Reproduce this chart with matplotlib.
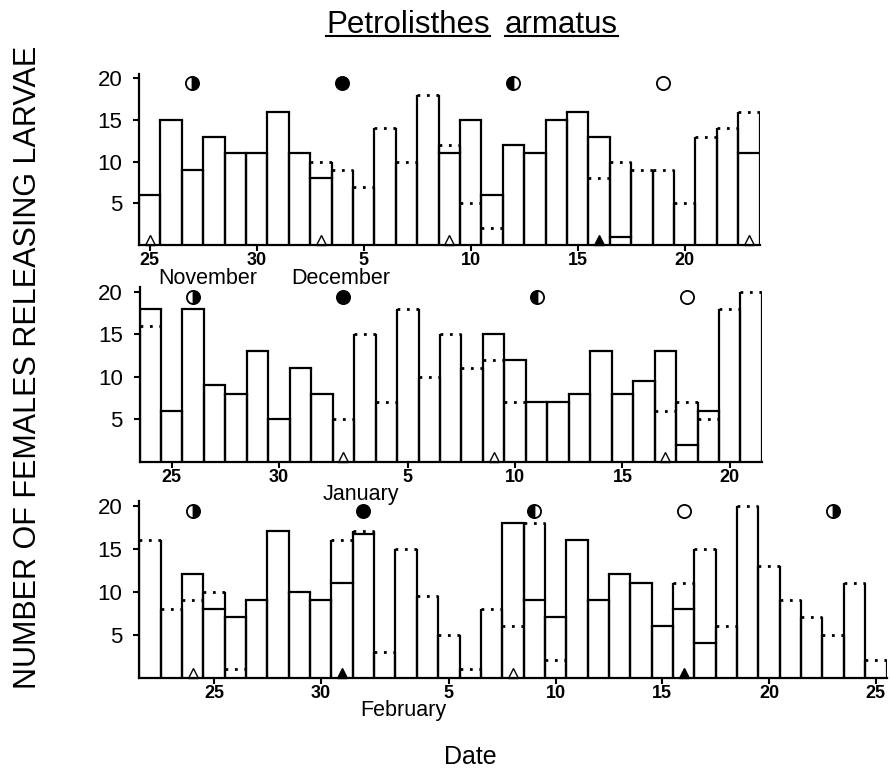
import matplotlib
matplotlib.use('Agg')
import matplotlib.pyplot as plt
import numpy as np
from matplotlib.lines import Line2D

plt.rcParams['font.family'] = ['Liberation Sans', 'DejaVu Sans']

nan = np.nan

# Panel 1: 25 Nov - 23 Dec
p1_solid = [6, 15, 9, 13, 11, 11, 16, 11, 8, nan, nan, nan, nan, nan, 11,
            15, 6, 12, 11, 15, 16, 13, 1, nan, nan, nan, nan, nan, 11]
p1_dotted = [nan, nan, nan, nan, nan, nan, nan, nan, 10, 9, 7, 14, 10, 18, 12,
             5, 2, nan, nan, nan, nan, 8, 10, 9, 9, 5, 13, 14, 16]
p1_ticks = [0, 5, 10, 15, 20, 25]
p1_ticklabels = ['25', '30', '5', '10', '15', '20']
p1_moons = [(2, 'last'), (9, 'new'), (17, 'first'), (24, 'full')]
p1_tri_open = [0, 8, 14, 28]
p1_tri_filled = [21]
p1_months = [(2.7, 'November'), (8.95, 'December')]

# Panel 2: 24 Dec - 21 Jan
p2_solid = [18, 6, 18, 9, 8, 13, 5, 11, 8, nan, nan, nan, nan, nan, nan,
            nan, 15, 12, 7, 7, 8, 13, 8, 9.5, 13, 2, 6, nan, nan]
p2_dotted = [16, nan, nan, nan, nan, nan, nan, nan, nan, 5, 15, 7, 18, 10, 15,
             11, 12, 7, nan, nan, nan, nan, nan, nan, 6, 7, 5, 18, 20]
p2_ticks = [1, 6, 12, 17, 22, 27]
p2_ticklabels = ['25', '30', '5', '10', '15', '20']
p2_moons = [(2, 'last'), (9, 'new'), (18, 'first'), (25, 'full')]
p2_tri_open = [9, 16, 24]
p2_tri_filled = []
p2_months = [(9.8, 'January')]

# Panel 3: 22 Jan - 25 Feb
p3_solid = [nan, nan, 12, 8, 7, 9, 17, 10, 9, 11, 16.7, nan, nan, nan, nan,
            nan, nan, 18, 9, 7, 16, 9, 12, 11, 6, 8, 4, nan, nan, nan, nan,
            nan, nan, nan, nan]
p3_dotted = [16, 8, 9, 10, 1, nan, nan, nan, nan, 16, 17, 3, 15, 9.5, 5,
             1, 8, 6, 18, 2, nan, nan, nan, nan, nan, 11, 15, 6, 20, 13, 9,
             7, 5, 11, 2]
p3_ticks = [3, 8, 14, 19, 24, 29, 34]
p3_ticklabels = ['25', '30', '5', '10', '15', '20', '25']
p3_moons = [(2, 'last'), (10, 'new'), (18, 'first'), (25, 'full'), (32, 'last')]
p3_tri_open = [2, 17]
p3_tri_filled = [9, 25]
p3_months = [(11.85, 'February')]

LW = 1.6
DOTS = (0, (1, 2.4))
MOON_Y = 19.4
W, H = 891, 784


def draw_panel(ax, solid, dotted, ticks, ticklabels, moons, tri_open,
               tri_filled, months):
    s = np.array(solid, dtype=float)
    d = np.array(dotted, dtype=float)
    x = np.arange(len(s))
    top = np.fmax(s, d)

    for xi, t in zip(x, top):
        ax.plot([xi - 0.5, xi - 0.5], [0, t], color='black', lw=LW,
                solid_capstyle='butt')
        ax.plot([xi + 0.5, xi + 0.5], [0, t], color='black', lw=LW,
                solid_capstyle='butt')
    for xi, v in zip(x, s):
        if not np.isnan(v):
            ax.plot([xi - 0.5, xi + 0.5], [v, v], color='black', lw=LW,
                    solid_capstyle='projecting')
    for xi, v in zip(x, d):
        if not np.isnan(v):
            ax.plot([xi - 0.5, xi + 0.5], [v, v], color='black', lw=2.0,
                    linestyle=DOTS)

    # moon phases
    for xi, phase in moons:
        kw = dict(marker='o', ms=9.5, mec='black', mew=1.3, ls='none',
                  clip_on=False)
        if phase == 'new':
            ax.plot(xi, MOON_Y, mfc='black', **kw)
        elif phase == 'full':
            ax.plot(xi, MOON_Y, mfc='white', **kw)
        elif phase == 'first':
            ax.plot(xi, MOON_Y, fillstyle='left', mfc='black',
                    markerfacecoloralt='white', **kw)
        else:
            ax.plot(xi, MOON_Y, fillstyle='right', mfc='black',
                    markerfacecoloralt='white', **kw)

    # triangles
    ax.plot(tri_open, [0.55] * len(tri_open), marker='^', ms=7, mfc='white',
            mec='black', mew=1.0, ls='none', clip_on=False)
    ax.plot(tri_filled, [0.55] * len(tri_filled), marker='^', ms=7,
            mfc='black', mec='black', ls='none', clip_on=False)

    ax.set_xlim(-0.5, len(s) - 0.5)
    ax.set_ylim(0, 20.5)
    for side in ['top', 'right']:
        ax.spines[side].set_visible(False)
    for side in ['left', 'bottom']:
        ax.spines[side].set_linewidth(1.6)
    ax.set_yticks([5, 10, 15, 20])
    ax.set_yticklabels(['5', '10', '15', '20'], fontsize=16)
    ax.set_xticks(ticks)
    ax.set_xticklabels(ticklabels, fontsize=13, fontweight='bold')
    ax.tick_params(axis='both', direction='out', length=4, width=1.5)
    ax.tick_params(axis='y', pad=8)
    ax.tick_params(axis='x', pad=1)

    for xm, name in months:
        ax.annotate(name, xy=(xm, 0), xycoords=('data', 'axes fraction'),
                    xytext=(0, -33), textcoords='offset pixels',
                    ha='center', va='center', fontsize=15.5)


fig = plt.figure(figsize=(W / 100, H / 100), dpi=100)
ax1 = fig.add_axes([0.1560, 0.6875, 0.6965, 0.2179])
ax2 = fig.add_axes([0.1566, 0.4111, 0.6985, 0.2222])
ax3 = fig.add_axes([0.1563, 0.1356, 0.8387, 0.2249])
for ax in (ax1, ax2, ax3):
    ax.patch.set_alpha(0)

draw_panel(ax1, p1_solid, p1_dotted, p1_ticks, p1_ticklabels, p1_moons,
           p1_tri_open, p1_tri_filled, p1_months)
draw_panel(ax2, p2_solid, p2_dotted, p2_ticks, p2_ticklabels, p2_moons,
           p2_tri_open, p2_tri_filled, p2_months)
draw_panel(ax3, p3_solid, p3_dotted, p3_ticks, p3_ticklabels, p3_moons,
           p3_tri_open, p3_tri_filled, p3_months)

# title, two words each underlined
t1 = fig.text(490 / W, 1 - 33 / H, 'Petrolisthes', ha='right',
              va='baseline', fontsize=22.5)
t2 = fig.text(505 / W, 1 - 33 / H, 'armatus', ha='left', va='baseline',
              fontsize=22.5)
fig.text(13 / W, 1 - 367 / H, 'NUMBER OF FEMALES RELEASING LARVAE',
         rotation=90, ha='left', va='center', fontsize=22)
fig.text(470 / W, 1 - 757 / H, 'Date', ha='center', va='center', fontsize=18)

fig.canvas.draw()
renderer = fig.canvas.get_renderer()
for t in (t1, t2):
    bb = t.get_window_extent(renderer)
    y = 1 - 36 / H
    fig.add_artist(Line2D([bb.x0 / W, bb.x1 / W], [y, y], color='black',
                          lw=1.5, transform=fig.transFigure))

fig.savefig('out.png', dpi=100)
